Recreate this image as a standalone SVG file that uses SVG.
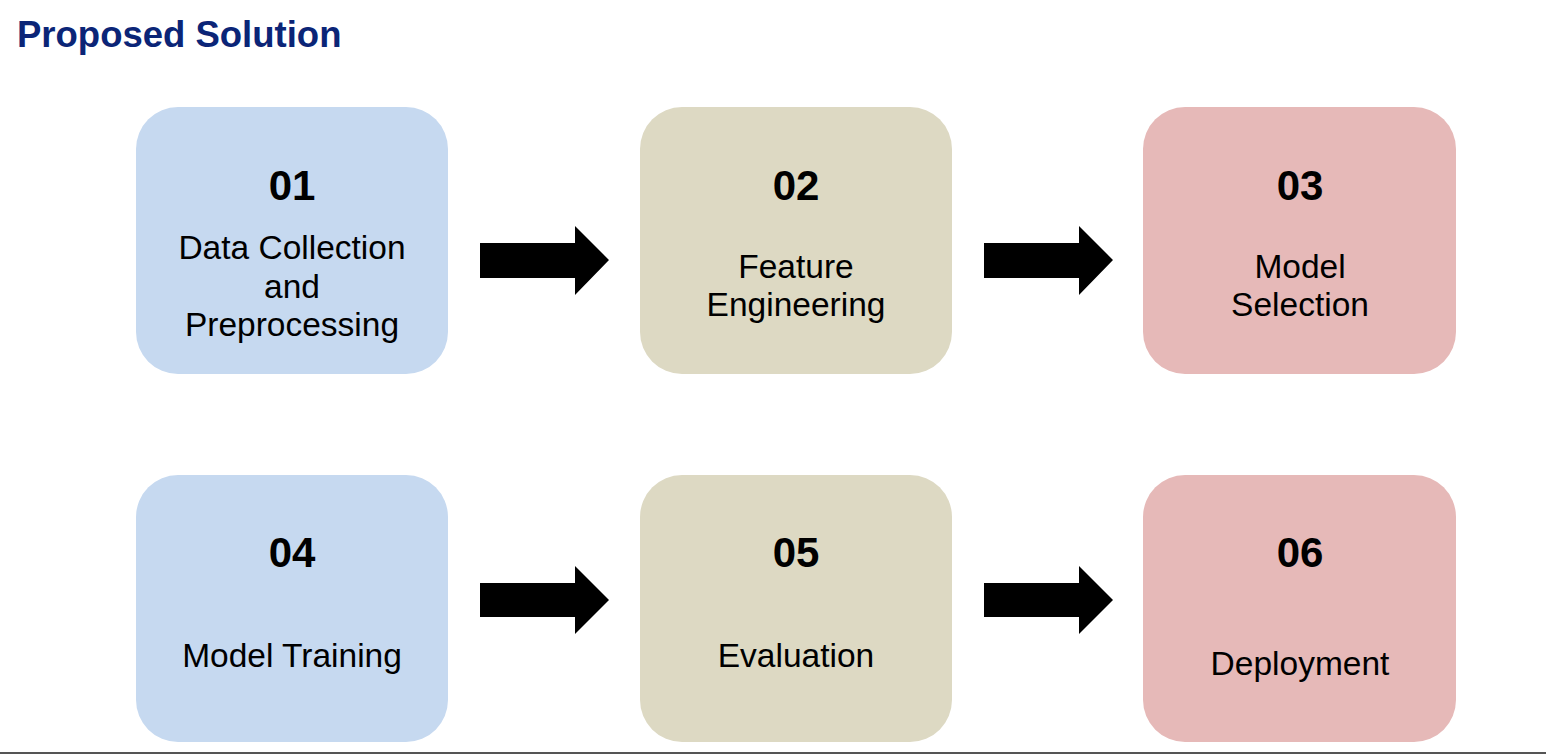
<svg xmlns="http://www.w3.org/2000/svg" width="1546" height="754" viewBox="0 0 1546 754">
<style>
.num{font-family:"Liberation Sans",Arial,sans-serif;font-weight:bold;font-size:42px;fill:#000;text-anchor:middle}
.lbl{font-family:"Liberation Sans",Arial,sans-serif;font-size:33.5px;fill:#000;text-anchor:middle}
.title{font-family:"Liberation Sans",Arial,sans-serif;font-weight:bold;font-size:36.5px;fill:#0b2577}
.blue{fill:#c6d9f0}.beige{fill:#ddd9c3}.pink{fill:#e6b9b8}
.arrow{fill:#000}
</style>
<rect width="1546" height="754" fill="#fff"/>
<text class="title" x="17" y="47">Proposed Solution</text>
<g id="node01"><rect class="blue" x="136" y="107" width="312" height="267" rx="42"/><text class="num" x="292" y="200">01</text><text class="lbl" x="292" y="259">Data Collection</text><text class="lbl" x="292" y="298">and</text><text class="lbl" x="292" y="336">Preprocessing</text></g>
<g id="node02"><rect class="beige" x="640" y="107" width="312" height="267" rx="42"/><text class="num" x="796" y="200">02</text><text class="lbl" x="796" y="278">Feature</text><text class="lbl" x="796" y="316">Engineering</text></g>
<g id="node03"><rect class="pink" x="1143" y="107" width="313" height="267" rx="42"/><text class="num" x="1300" y="200">03</text><text class="lbl" x="1300" y="278">Model</text><text class="lbl" x="1300" y="316">Selection</text></g>
<g id="node04"><rect class="blue" x="136" y="475" width="312" height="267" rx="42"/><text class="num" x="292" y="567">04</text><text class="lbl" x="292" y="667">Model Training</text></g>
<g id="node05"><rect class="beige" x="640" y="475" width="312" height="267" rx="42"/><text class="num" x="796" y="567">05</text><text class="lbl" x="796" y="667">Evaluation</text></g>
<g id="node06"><rect class="pink" x="1143" y="475" width="313" height="267" rx="42"/><text class="num" x="1300" y="567">06</text><text class="lbl" x="1300" y="675">Deployment</text></g>
<g id="connectors">
<path class="arrow" d="M480,243 H575 V226 L609,260 L575,295 V278 H480 Z"/>
<path class="arrow" d="M984,243 H1079 V226 L1113,260 L1079,295 V278 H984 Z"/>
<path class="arrow" d="M480,583 H575 V566 L609,600 L575,634 V617 H480 Z"/>
<path class="arrow" d="M984,583 H1079 V566 L1113,600 L1079,634 V617 H984 Z"/>
</g>
<rect x="0" y="752" width="1546" height="2" fill="#555"/>
</svg>
